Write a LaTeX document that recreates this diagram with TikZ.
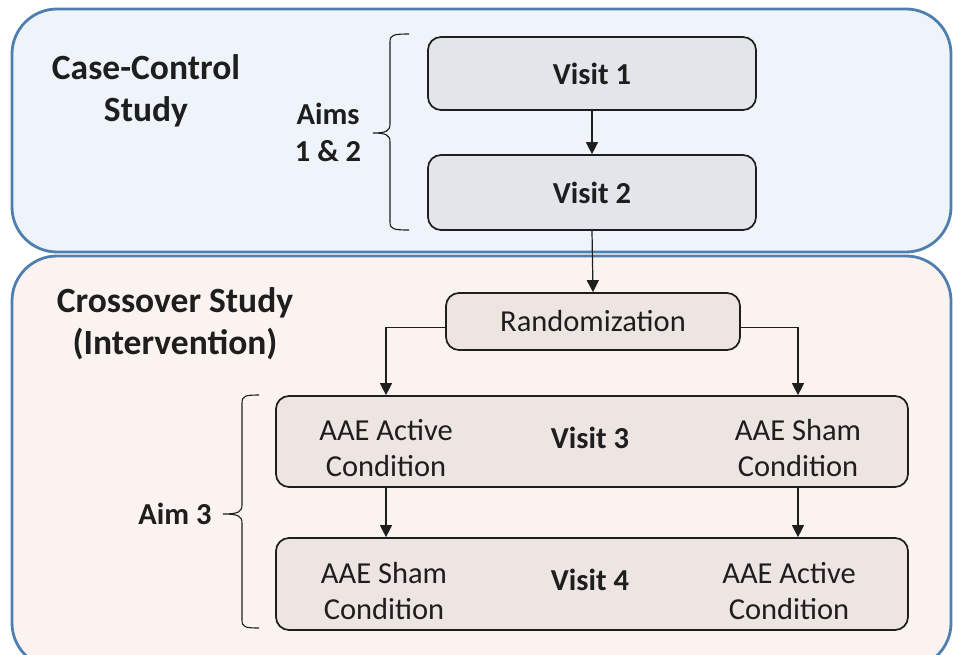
\documentclass[tikz,border=0pt]{standalone}
\usepackage{fontspec}
\setmainfont{Carlito}
\usetikzlibrary{arrows.meta,calc}
\definecolor{frameblue}{HTML}{4F7FAE}
\definecolor{topfill}{HTML}{EEF4F9}
\definecolor{botfill}{HTML}{FBF3EF}
\definecolor{greybox}{HTML}{E2E6EA}
\definecolor{tanbox}{HTML}{EDE5E1}
\definecolor{ink}{HTML}{1E1E1E}
\begin{document}
\begin{tikzpicture}[x=1pt,y=-1pt,
  container/.style={draw=frameblue,line width=2.8pt,rounded corners=45pt},
  stepbox/.style={draw=ink,line width=1.7pt,rounded corners=13pt,inner sep=0pt,align=center,
    text=ink,font=\fontsize{30.5}{36}\selectfont},
  greystep/.style={stepbox,fill=greybox},
  tanstep/.style={stepbox,fill=tanbox},
  boldtxt/.style={font=\fontsize{30.5}{37}\selectfont\bfseries,align=center,inner sep=0pt,text=ink},
  plaintxt/.style={font=\fontsize{30.5}{36}\selectfont,align=center,inner sep=0pt,text=ink},
  titletxt/.style={font=\fontsize{35.5}{42}\selectfont\bfseries,align=center,inner sep=0pt,text=ink},
  conn/.style={draw=ink,line width=1.2pt,-{Triangle[length=12pt,width=12pt]}},
  bracepath/.style={draw=ink,line width=1.1pt}]
\useasboundingbox (0,0) rectangle (953,654);
\begin{scope}
\clip (0,0) rectangle (953,654);
% containers
\draw[container,fill=topfill] (12,9) rectangle (951,252);
\draw[container,fill=botfill] (12,256) rectangle (951,668);
\end{scope}
% titles
\node[titletxt] (cc) at (146,91) {Case-Control\\Study};
\node[titletxt] (co) at (175,324) {Crossover Study\\(Intervention)};
% aims labels
\node[boldtxt] (aims12) at (328,132) {Aims\\1 \& 2};
\node[boldtxt] (aim3) at (175,514) {Aim 3};
% top boxes
\node[greystep,minimum width=328pt,minimum height=73pt,font=\fontsize{30.5}{36}\selectfont\bfseries] (v1) at (592,73.5) {Visit 1};
\node[greystep,minimum width=328pt,minimum height=75pt,font=\fontsize{30.5}{36}\selectfont\bfseries] (v2) at (592,192.5) {Visit 2};
% randomization
\node[tanstep,minimum width=294pt,minimum height=57pt] (rand) at (593,321.5) {Randomization};
% visit 3 and 4
\node[tanstep,minimum width=632pt,minimum height=91pt] (v3) at (592,441.5) {};
\node[tanstep,minimum width=632pt,minimum height=92pt] (v4) at (592,584) {};
\node[plaintxt] (v3a) at (386,448) {AAE Active\\Condition};
\node[boldtxt] (v3t) at (590,438) {Visit 3};
\node[plaintxt] (v3b) at (798,448) {AAE Sham\\Condition};
\node[plaintxt] (v4a) at (384,591) {AAE Sham\\Condition};
\node[boldtxt] (v4t) at (590,580) {Visit 4};
\node[plaintxt] (v4b) at (789,591) {AAE Active\\Condition};
% connectors
\draw[conn] (v1.south) -- (v2.north);
\draw[conn] (v2.south) -- (rand.north);
\draw[conn] ([yshift=-6pt]rand.west) -| (v3.north -| v3a.center);
\draw[conn] ([yshift=-6pt]rand.east) -| (v3.north -| v3b.center);
\draw[conn] (v3.south -| v3a.center) -- (v4.north -| v3a.center);
\draw[conn] (v3.south -| v3b.center) -- (v4.north -| v3b.center);
% braces
\draw[bracepath] (409,34) .. controls (393,34) and (390,35) .. (390,42) -- (390,124)
  .. controls (390,131) and (386,133) .. (373,133)
  .. controls (386,133) and (390,135) .. (390,142) -- (390,222)
  .. controls (390,229) and (393,230) .. (409,230);
\draw[bracepath] (259,395) .. controls (245,395) and (242,396) .. (242,403) -- (242,505)
  .. controls (242,512) and (238,514) .. (223,514)
  .. controls (238,514) and (242,516) .. (242,523) -- (242,620)
  .. controls (242,627) and (245,628) .. (259,628);
\end{tikzpicture}
\end{document}
